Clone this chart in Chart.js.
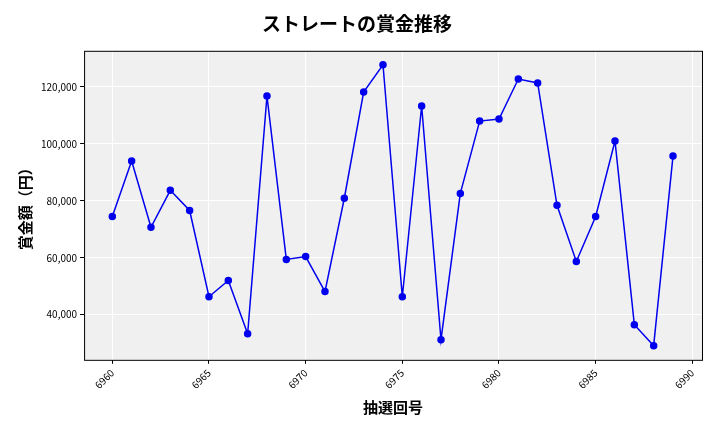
<!DOCTYPE html>
<html>
<head>
<meta charset="utf-8">
<script src="https://cdn.jsdelivr.net/npm/chart.js@4/dist/chart.umd.min.js"></script>
<style>
html, body { margin: 0; padding: 0; background: #fff; }
#wrap { width: 720px; height: 432px; }
</style>
</head>
<body>
<div id="wrap"><canvas id="chart" width="720" height="432"></canvas></div>
<script>
const draws = [6960, 6961, 6962, 6963, 6964, 6965, 6966, 6967, 6968, 6969,
    6970, 6971, 6972, 6973, 6974, 6975, 6976, 6977, 6978, 6979,
    6980, 6981, 6982, 6983, 6984, 6985, 6986, 6987, 6988, 6989];
const prizes = [74500, 94000, 70700, 83700, 76600, 46300, 52000, 33300, 116800, 59400,
    60400, 48100, 80900, 118200, 127800, 46300, 113300, 31200, 82600, 108000,
    108700, 122800, 121400, 78400, 58700, 74500, 101000, 36500, 29100, 95700];

const font = "'Noto Sans CJK JP', 'Noto Sans', sans-serif";

const plotBg = {
    id: 'plotBg',
    beforeDraw(chart) {
        const { ctx, chartArea: a } = chart;
        ctx.save();
        ctx.fillStyle = '#f0f0f0';
        ctx.fillRect(a.left, a.top, a.right - a.left, a.bottom - a.top);
        ctx.restore();
    },
    afterDraw(chart) {
        const { ctx, chartArea: a } = chart;
        ctx.save();
        ctx.strokeStyle = '#000';
        ctx.lineWidth = 1;
        ctx.strokeRect(a.left + 0.5, a.top + 0.5, a.right - a.left, a.bottom - a.top);
        ctx.restore();
    }
};

new Chart(document.getElementById('chart'), {
    type: 'line',
    data: {
        datasets: [{
            data: draws.map((d, i) => ({ x: d, y: prizes[i] })),
            borderColor: '#0000ee',
            backgroundColor: '#0000ee',
            borderWidth: 1.5,
            pointRadius: 3,
            tension: 0
        }]
    },
    options: {
        responsive: false,
        animation: false,
        layout: { padding: { left: 12, right: 18, top: 8, bottom: 12 } },
        plugins: {
            legend: { display: false },
            tooltip: { enabled: false },
            title: {
                display: true,
                text: 'ストレートの賞金推移',
                color: '#000',
                font: { family: font, size: 19, weight: 'bold' },
                padding: { top: 4, bottom: 16 }
            }
        },
        scales: {
            x: {
                type: 'linear',
                min: 6958.54,
                max: 6990.5,
                grid: { color: '#ffffff', drawTicks: true, tickColor: '#000', tickLength: 4 },
                border: { display: false },
                afterBuildTicks(scale) {
                    scale.ticks = [6960, 6965, 6970, 6975, 6980, 6985, 6990].map(v => ({ value: v }));
                },
                ticks: {
                    color: '#000',
                    maxRotation: 45,
                    minRotation: 45,
                    font: { family: font, size: 10 },
                    callback: v => String(v)
                },
                title: {
                    display: true,
                    text: '抽選回号',
                    color: '#000',
                    font: { family: font, size: 15, weight: 'bold' }
                }
            },
            y: {
                min: 24140,
                max: 132700,
                grid: { color: '#ffffff', tickColor: '#000', tickLength: 4 },
                border: { display: false },
                afterBuildTicks(scale) {
                    scale.ticks = [40000, 60000, 80000, 100000, 120000].map(v => ({ value: v }));
                },
                ticks: {
                    color: '#000',
                    font: { family: font, size: 10 },
                    callback: v => v.toLocaleString('en-US')
                },
                title: {
                    display: true,
                    text: '賞金額（円）',
                    color: '#000',
                    font: { family: font, size: 15, weight: 'bold' }
                }
            }
        }
    },
    plugins: [plotBg]
});
</script>
</body>
</html>
